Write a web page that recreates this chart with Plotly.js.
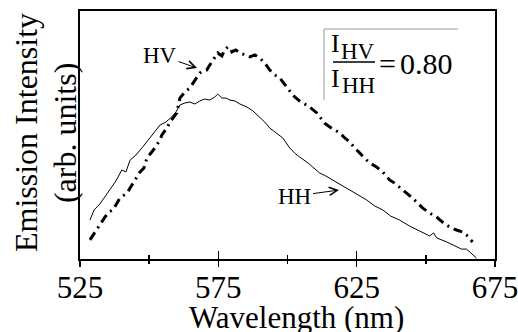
<!DOCTYPE html>
<html>
<head>
<meta charset="utf-8">
<script src="https://cdn.plot.ly/plotly-3.0.1.min.js"></script>
<style>html,body{margin:0;padding:0;background:#fff;}#chart{width:518px;height:332px;}</style>
</head>
<body>
<div id="chart"></div>
<script>
// HH polarisation (solid line)
const hhWavelength = [528.6,530.1,532.2,534.0,535.8,538.0,540.1,541.6,543.1,545.2,547.4,550.3,552.4,553.9,556.0,558.2,559.7,561.1,562.9,564.7,566.5,568.3,570.1,571.9,573.7,574.8,576.3,577.7,579.2,581.0,582.8,585.3,587.5,590.0,591.8,593.6,595.8,598.3,600.8,602.6,604.4,607.0,609.1,611.6,613.8,616.3,618.9,621.7,624.3,626.8,628.6,631.5,634.4,637.3,640.5,644.1,647.7,651.4,652.8,653.9,657.5,660.4,662.9,664.7,665.8,668.3];
const hhIntensity  = [15.7,19.8,22.2,25.0,27.8,31.5,35.9,35.1,39.9,41.9,44.8,48.8,52.0,54.0,55.2,57.3,59.3,62.1,62.9,63.3,62.5,63.7,64.5,64.1,65.3,66.5,64.9,64.9,64.1,63.7,62.5,61.3,59.7,57.3,55.2,52.8,50.8,48.8,44.8,42.7,41.1,39.1,37.1,34.7,33.5,31.9,30.2,28.6,26.6,25.0,23.8,21.4,19.8,17.3,15.7,13.3,11.3,9.3,10.5,8.5,6.9,5.2,4.0,4.0,2.8,0.4];

// HV polarisation (dash-dot line)
const hvWavelength = [528.6,530.4,531.5,534.0,535.5,536.9,538.4,539.4,542.0,543.4,544.9,546.7,548.1,549.2,551.0,552.1,553.9,554.6,556.4,557.5,558.9,560.0,561.1,562.9,564.7,566.5,568.3,569.8,570.8,571.9,573.0,574.1,574.8,576.3,577.3,578.4,579.2,579.9,581.3,582.8,584.6,586.4,588.2,590.0,591.8,593.6,595.4,597.2,599.7,601.9,604.4,606.2,608.0,610.6,612.4,613.4,615.3,617.1,618.9,620.7,622.5,624.3,626.1,627.5,628.6,630.4,632.2,634.4,636.9,638.7,640.5,642.7,645.2,647.0,648.8,651.4,653.9,656.0,658.6,661.1,663.3,664.7,666.9];
const hvIntensity  = [7.7,10.9,12.9,16.9,19.0,19.8,22.6,24.6,26.6,29.4,31.9,35.1,36.7,40.7,43.1,44.8,48.0,50.0,52.8,55.2,57.3,58.9,64.9,67.3,69.0,72.2,75.0,75.8,76.2,78.2,80.2,82.3,83.1,81.9,84.3,85.5,85.1,83.5,84.3,83.1,82.3,81.5,82.3,81.0,79.0,76.2,74.2,73.0,69.4,66.1,63.7,62.5,61.3,58.9,56.0,54.8,53.2,52.0,50.8,48.8,47.2,44.8,42.7,41.1,39.9,38.3,37.1,35.1,31.9,30.6,29.0,27.0,24.6,22.6,20.6,18.5,16.9,14.9,12.9,11.7,10.9,9.7,6.9];

const majorTicks = [525, 575, 625, 675];
const tickText = ['525', '575', '625', '675'];
const ratioText = '0.80';
const yTitleLines = ['Emission Intensity', '(arb. units)'];
const xTitle = 'Wavelength (nm)';

const serif = '"Liberation Serif"';

const traces = [
  {x: hhWavelength, y: hhIntensity, mode: 'lines', name: 'HH',
   line: {color: '#000', width: 1}, hoverinfo: 'skip'},
  {x: hvWavelength, y: hvIntensity, mode: 'lines', name: 'HV',
   line: {color: '#000', width: 3, dash: '9px,5px,2px,5px'}, hoverinfo: 'skip'},
  {x: [], y: [], xaxis: 'x2', yaxis: 'y', mode: 'lines', showlegend: false, hoverinfo: 'skip'}
];

function label(x, y, text, size, angle) {
  return {xref: 'paper', yref: 'paper', x: x, y: y, xanchor: 'center', yanchor: 'middle',
          text: text, showarrow: false, textangle: angle || 0,
          font: {family: serif, size: size, color: '#000'}};
}

const layout = {
  width: 518, height: 332,
  margin: {l: 80, r: 23, t: 11, b: 73},
  paper_bgcolor: '#fff', plot_bgcolor: '#fff',
  showlegend: false,
  font: {family: serif, color: '#000'},
  xaxis: {
    range: [525, 675], tickvals: majorTicks, ticktext: tickText,
    ticks: 'inside', ticklen: 8, tickwidth: 1.5, tickcolor: '#000',
    minor: {tick0: 525, dtick: 25, ticks: 'inside', ticklen: 4, tickwidth: 1.5, tickcolor: '#000', showgrid: false},
    showline: true, linecolor: '#000', linewidth: 2, mirror: true,
    showgrid: false, zeroline: false, ticklabeloverflow: 'allow',
    tickfont: {family: serif, size: 31, color: '#000'}
  },
  xaxis2: {
    range: [525, 675], overlaying: 'x', anchor: 'y', side: 'bottom',
    tickvals: majorTicks, showticklabels: false,
    ticks: 'outside', ticklen: 7, tickwidth: 1.5, tickcolor: '#000',
    minor: {tick0: 525, dtick: 25, ticks: 'outside', ticklen: 4, tickwidth: 1.5, tickcolor: '#000', showgrid: false},
    showline: false, showgrid: false, zeroline: false
  },
  yaxis: {
    range: [0, 100], showticklabels: false, ticks: '',
    showline: true, linecolor: '#000', linewidth: 2, mirror: true,
    showgrid: false, zeroline: false
  },
  shapes: [
    {type: 'line', xref: 'paper', yref: 'paper', x0: 0.588, x1: 0.9108, y0: 0.9274, y1: 0.9274, line: {color: '#999', width: 1}},
    {type: 'line', xref: 'paper', yref: 'paper', x0: 0.588, x1: 0.588, y0: 0.9274, y1: 0.6411, line: {color: '#999', width: 1}},
    {type: 'line', xref: 'paper', yref: 'paper', x0: 0.6096, x1: 0.7108, y0: 0.7944, y1: 0.7944, line: {color: '#000', width: 1.5}}
  ],
  annotations: [
    label(0.6157, 0.869, 'I', 26),
    label(0.6687, 0.8387, 'HV', 23),
    label(0.6157, 0.7278, 'I', 26),
    label(0.6711, 0.6976, 'HH', 23),
    label(0.7398, 0.7903, '=', 30),
    label(0.8349, 0.7903, ratioText, 30),
    {xref: 'x', yref: 'y', x: 567.3, y: 77.0, ax: -37, ay: -13, text: 'HV', showarrow: true,
     arrowhead: 5, arrowsize: 1.6, arrowwidth: 1, arrowcolor: '#000', standoff: 0, font: {family: serif, size: 23}},
    {xref: 'x', yref: 'y', x: 618.6, y: 27.8, ax: -44, ay: 6, text: 'HH', showarrow: true,
     arrowhead: 5, arrowsize: 1.6, arrowwidth: 1, arrowcolor: '#000', standoff: 0, font: {family: serif, size: 23}},
    label(-0.1301, 0.508, yTitleLines[0], 32, -90),
    label(-0.0361, 0.508, yTitleLines[1], 32, -90),
    label(0.5217, -0.2339, xTitle, 31)
  ]
};

Plotly.newPlot('chart', traces, layout, {staticPlot: true, displayModeBar: false});
</script>
</body>
</html>
